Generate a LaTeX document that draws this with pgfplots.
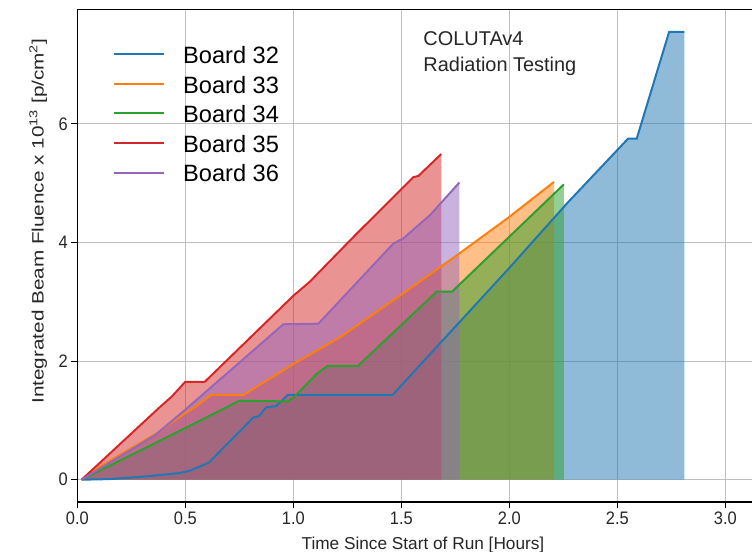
\documentclass[border=0pt]{standalone}
\usepackage{pgfplots}
\pgfplotsset{compat=1.18}
\usepackage{fontspec}
\setmainfont{Liberation Sans}
\definecolor{cA}{HTML}{1F77B4}
\definecolor{cB}{HTML}{FF7F0E}
\definecolor{cC}{HTML}{2CA02C}
\definecolor{cD}{HTML}{D62728}
\definecolor{cE}{HTML}{9467BD}
\pgfplotstableread{
x y
0.02 0
0.15 0.01
0.30 0.05
0.47 0.11
0.52 0.15
0.61 0.29
0.815 1.05
0.84 1.07
0.875 1.22
0.92 1.24
0.975 1.43
1.46 1.43
2.0 3.57
2.27 4.67
2.55 5.75
2.59 5.75
2.74 7.55
2.81 7.55
}\bA
\pgfplotstableread{
x y
0.02 0
0.10 0.21
0.38 0.81
0.45 1.00
0.55 1.24
0.62 1.43
0.77 1.43
1.00 1.95
1.22 2.41
1.50 3.12
1.76 3.79
2.00 4.43
2.207 5.02
}\bB
\pgfplotstableread{
x y
0.02 0
0.50 0.87
0.75 1.33
0.975 1.32
1.00 1.38
1.11 1.79
1.16 1.92
1.30 1.92
1.664 3.17
1.735 3.17
2.253 4.98
}\bC
\pgfplotstableread{
x y
0.02 0
0.375 1.20
0.437 1.40
0.50 1.65
0.59 1.65
1.00 3.10
1.077 3.34
1.286 4.12
1.556 5.10
1.579 5.12
1.685 5.49
}\bD
\pgfplotstableread{
x y
0.02 0
0.36 0.75
0.50 1.18
0.954 2.62
1.116 2.63
1.463 3.98
1.51 4.07
1.633 4.46
1.769 5.01
}\bE
\begin{document}
\begin{tikzpicture}
\begin{axis}[
  scale only axis, width=674.7bp, height=492.7bp,
  xmin=0, xmax=3.1236, ymin=-0.376, ymax=7.93,
  axis lines=left, axis line style={-, black, line width=1.3bp},
  clip=false,
  tick align=outside, major tick length=6bp,
  tick style={black, line width=1bp},
  grid=major, grid style={black!25, line width=0.9bp},
  xtick={0,0.5,1,1.5,2,2.5,3}, ytick={0,2,4,6},
  xticklabel style={/pgf/number format/.cd, fixed, fixed zerofill, precision=1},
  /pgf/number format/assume math mode=true,
  tick label style={font=\fontsize{16.5}{19}\selectfont, text=black!85, yscale=1.1},
  xlabel={Time Since Start of Run [Hours]},
  ylabel={Integrated Beam Fluence x 10\textsuperscript{13} [p/cm\textsuperscript{2}]},
  xlabel style={at={(axis description cs:0.5123,0)}, anchor=center, yshift=-43bp, font=\fontsize{17.3}{20}\selectfont, text=black!85},
  ylabel style={at={(axis description cs:0,0.570)}, anchor=center, yshift=39bp, xscale=1.26, font=\fontsize{16.5}{19}\selectfont, text=black!85},
  legend style={at={(axis description cs:0,1)}, anchor=north west, xshift=35.7bp, yshift=-35bp,
    draw=none, fill=none, font=\fontsize{23.7}{29.6}\selectfont, row sep=0pt, inner sep=0pt,
    nodes={inner sep=0pt, text height=19bp, text depth=10.6bp}},
  legend cell align=left,
  legend image code/.code={\draw[#1, line width=2bp] (0bp,5bp) -- (50bp,5bp); \path[draw=none] (0bp,5bp) -- (69bp,5bp);},
]
\addplot[fill=cA, fill opacity=0.5, draw=none, forget plot] table {\bA} \closedcycle;
\addplot[fill=cB, fill opacity=0.5, draw=none, forget plot] table {\bB} \closedcycle;
\addplot[fill=cC, fill opacity=0.5, draw=none, forget plot] table {\bC} \closedcycle;
\addplot[fill=cD, fill opacity=0.5, draw=none, forget plot] table {\bD} \closedcycle;
\addplot[fill=cE, fill opacity=0.5, draw=none, forget plot] table {\bE} \closedcycle;
\addplot[cA, line width=2bp] table {\bA};
\addplot[cB, line width=2bp] table {\bB};
\addplot[cC, line width=2bp] table {\bC};
\addplot[cD, line width=2bp] table {\bD};
\addplot[cE, line width=2bp] table {\bE};
\legend{Board 32, Board 33, Board 34, Board 35, Board 36}
\draw[black, line width=1.3bp] (rel axis cs:0,1) -- (rel axis cs:1,1);
\node[anchor=base west, inner sep=0pt, font=\fontsize{20}{24}\selectfont, text=black!85] at (axis description cs:0.5128,0.9275) {COLUTAv4};
\node[anchor=base west, inner sep=0pt, font=\fontsize{20}{24}\selectfont, text=black!85] at (axis description cs:0.5128,0.8734) {Radiation Testing};
\end{axis}
\pgfresetboundingbox
\useasboundingbox (-77.3bp,-50bp) rectangle (674.7bp,502bp);
\end{tikzpicture}
\end{document}
